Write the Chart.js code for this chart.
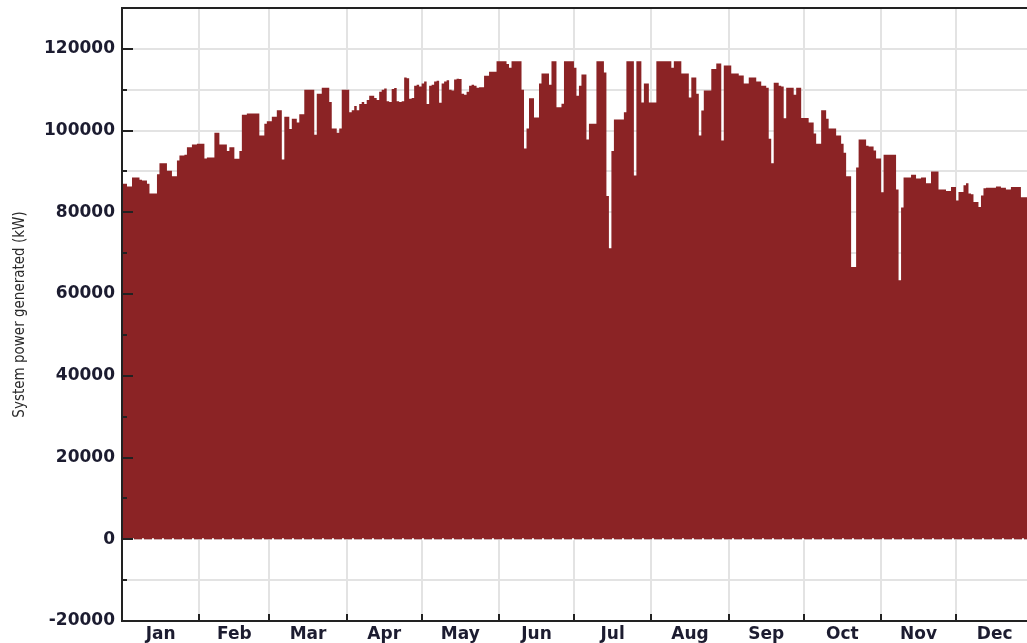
<!DOCTYPE html>
<html>
<head>
<meta charset="utf-8">
<script src="https://cdn.jsdelivr.net/npm/chart.js@4/dist/chart.umd.min.js"></script>
<style>
  html, body { margin: 0; padding: 0; background: #fff; overflow: hidden; width: 1027px; height: 643px; }
  #wrap { position: relative; width: 1040px; height: 643px; }
</style>
</head>
<body>
<div id="wrap"><canvas id="c"></canvas></div>
<script>
// Daily peak system output (kW), one value per day, grouped by month
const jan = [87000,87000,86300,86300,88500,88500,88500,88000,87800,87800,87000,84600,84600,84600,89300,92000,92000,92000,90200,90200,88800,88800,92700,93900,93900,94100,95900,95900,96600,96600,96800];
const feb = [96800,96800,93200,93400,93400,93400,99500,99500,96600,96600,96600,95000,95900,95900,93100,93100,95000,103900,103900,104200,104200,104200,104200,104200,98800,98800,101700,102300];
const mar = [102300,103400,103400,105000,105000,92900,103400,103400,100400,102900,102900,102000,104000,104000,110000,110000,110000,110000,99000,109000,109000,110500,110500,110500,107000,100500,100500,99500,100500,110000,110000];
const apr = [110000,104500,105000,106000,105000,106500,107000,106500,107500,108500,108500,108000,107500,109500,110000,110300,107200,107000,110200,110400,107200,107000,107200,113000,112800,107800,108000,111000,111200,110800];
const may = [111500,112000,106500,111000,111200,112000,112200,106800,111500,112000,112300,110000,109800,112500,112700,112600,109000,108800,109500,111000,111200,111000,110500,110600,110600,113400,113400,114400,114400,114400,117000];
const jun = [117000,117000,117000,116300,115400,117000,117000,117000,117000,110000,95600,100500,107900,107900,103200,103200,111500,114000,114000,114000,111200,117000,117000,105700,105700,106600,117000,117000,117000,117000];
const jul = [115400,108500,111000,113700,113700,97800,101700,101700,101700,117000,117000,117000,114200,84000,71200,95000,102700,102700,102700,102700,104500,117000,117000,117000,89000,117000,117000,106900,111500,111500,106900];
const aug = [106900,106900,117000,117000,117000,117000,117000,117000,115400,117000,117000,117000,114000,114000,114000,108100,113000,113000,109000,98800,104900,109800,109800,109800,115100,115100,116400,116400,97600,115900,115900];
const sep = [115900,114000,114000,114000,113500,113500,111500,111500,113000,113000,113000,112000,112000,111000,111000,110500,98000,92000,111700,111700,111000,110800,103000,110500,110500,110500,108800,110500,110500,103100];
const oct = [103100,103100,102000,102000,99300,96800,96800,105000,105000,102900,100500,100500,100500,98800,98800,96800,94600,88800,88800,66600,66600,91000,97800,97800,97800,96300,96100,96100,95100,93200,93200];
const nov = [84900,94100,94100,94100,94100,94100,85600,63400,81200,88500,88500,88500,89200,89200,88300,88300,88500,88500,87100,87100,90000,90000,90000,85600,85600,85600,85200,85200,86200,86200];
const dec = [82900,85000,85000,86600,87100,84600,84400,82500,82500,81300,84100,85900,86000,86000,86000,86000,86300,86300,86000,86000,85600,85600,86200,86200,86200,86200,83700,83700,83700,84000,84000];

const monthNames = ['Jan','Feb','Mar','Apr','May','Jun','Jul','Aug','Sep','Oct','Nov','Dec'];
const monthStartDay = [0,31,59,90,120,151,181,212,243,273,304,334,365];

const yMin = -20000, yMax = 130000, yStep = 10000, yLabelStep = 20000;

const peakKW = [].concat(jan, feb, mar, apr, may, jun, jul, aug, sep, oct, nov, dec);
const peakPoints = peakKW.map((v, i) => ({ x: i, y: v }));
peakPoints.push({ x: peakKW.length, y: peakKW[peakKW.length - 1] });

// x ticks: month boundaries (grid lines) and month middles (labels)
const xTickValues = [], xTickText = [];
for (let m = 0; m < 12; m++) {
  xTickValues.push(monthStartDay[m]); xTickText.push('');
  xTickValues.push((monthStartDay[m] + monthStartDay[m + 1]) / 2); xTickText.push(monthNames[m]);
}
xTickValues.push(monthStartDay[12]); xTickText.push('');

const inkColor = '#1c1c30';
const gridColor = '#e3e3e3';
const tickFont = { family: 'DejaVu Sans', size: 17, weight: 'bold' };

// inward tick marks and top frame line
const innerTicks = {
  id: 'innerTicks',
  afterDraw(chart) {
    const { ctx, chartArea: a, scales: { x, y } } = chart;
    ctx.save();
    ctx.strokeStyle = '#222';
    ctx.lineWidth = 2;
    ctx.beginPath();
    ctx.moveTo(a.left - 1, Math.round(a.top));
    ctx.lineTo(a.right, Math.round(a.top));
    for (let v = yMin; v <= yMax; v += yStep) {
      const py = Math.round(y.getPixelForValue(v));
      const len = v % yLabelStep === 0 ? 11 : 5;
      ctx.moveTo(a.left, py);
      ctx.lineTo(a.left + len, py);
    }
    monthStartDay.forEach(d => {
      const px = Math.round(x.getPixelForValue(d));
      ctx.moveTo(px, a.bottom);
      ctx.lineTo(px, a.bottom - 7);
    });
    ctx.stroke();
    ctx.restore();
  }
};

new Chart(document.getElementById('c'), {
  type: 'line',
  data: {
    datasets: [
      {
        label: 'Night',
        data: [{ x: 0, y: 0 }, { x: 365, y: 0 }],
        borderColor: '#ffffff',
        borderWidth: 2,
        borderDash: [2, 8],
        pointRadius: 0,
        fill: false,
        order: 0
      },
      {
        label: 'System power generated',
        data: peakPoints,
        stepped: true,
        fill: 'origin',
        backgroundColor: '#8b2325',
        borderColor: 'rgba(0,0,0,0)',
        borderWidth: 1,
        pointRadius: 0,
        order: 1
      }
    ]
  },
  options: {
    responsive: true,
    maintainAspectRatio: false,
    animation: false,
    layout: { padding: { top: 8, right: 6.6, bottom: 0, left: 0 } },
    plugins: { legend: { display: false }, tooltip: { enabled: false } },
    scales: {
      x: {
        type: 'linear',
        min: 0,
        max: 365,
        afterBuildTicks: s => { s.ticks = xTickValues.map(v => ({ value: v })); },
        afterFit: s => { s.height = 22; s.paddingLeft = 0; s.paddingRight = 0; },
        grid: {
          color: c => (xTickText[c.index] === '' ? gridColor : 'rgba(0,0,0,0)'),
          lineWidth: 2,
          drawTicks: false
        },
        border: { color: '#222', width: 2, z: 1 },
        ticks: {
          autoSkip: false,
          maxRotation: 0,
          padding: 3,
          color: inkColor,
          font: tickFont,
          callback: (v, i) => xTickText[i]
        }
      },
      y: {
        min: yMin,
        max: yMax,
        afterFit: s => { s.width = 122; s.paddingTop = 0; s.paddingBottom = 0; },
        grid: { color: gridColor, lineWidth: 2, drawTicks: false },
        border: { color: '#222', width: 2, z: 1 },
        ticks: {
          stepSize: yStep,
          autoSkip: false,
          padding: 7,
          color: inkColor,
          font: tickFont,
          callback: v => (v % yLabelStep === 0 ? String(v) : '')
        },
        title: {
          display: true,
          text: 'System power generated (kW)',
          color: '#2a2a2a',
          font: { family: "'DejaVu Sans Condensed', 'Liberation Sans Narrow', 'Open Sans', sans-serif", size: 15 },
          padding: { top: 11, bottom: 0 }
        }
      }
    }
  },
  plugins: [innerTicks]
});
</script>
</body>
</html>
